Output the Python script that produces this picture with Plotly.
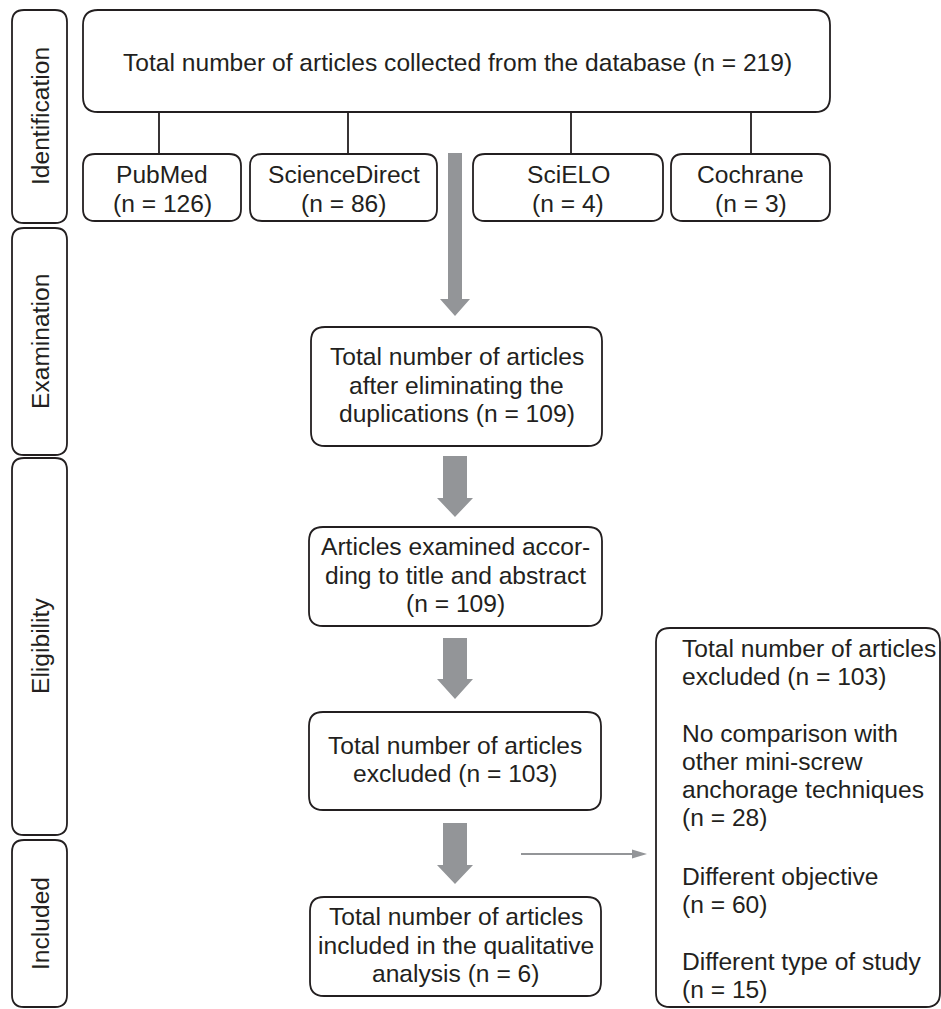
import plotly.graph_objects as go

# ---------------- data ----------------
stages = ["Identification", "Examination", "Eligibility", "Included"]
total_collected = 219
sources = ["PubMed", "ScienceDirect", "SciELO", "Cochrane"]
source_n = [126, 86, 4, 3]
after_dedup_n = 109
screened_n = 109
excluded_n = 103
included_n = 6
exclusion_reasons = [["No comparison with", "other mini-screw", "anchorage techniques"],
                     ["Different objective"],
                     ["Different type of study"]]
exclusion_n = [28, 60, 15]

# ---------------- layout geometry (pixels) ----------------
W, H = 941, 1009
INK = "#231f20"
GRAY = "#939598"
FS = 24.6
LH = 28.5
LW = 1.8

stage_boxes = [(12, 10, 67, 223), (12, 228, 67, 455), (12, 458, 67, 835), (12, 840, 67, 1007)]
main_box = (83, 10, 830, 112)
source_boxes = [(83, 154, 241, 221), (250, 154, 437, 221), (473, 154, 663, 221), (671, 154, 830, 221)]
connector_x = [159, 348, 571, 751]
flow_boxes = [(311, 327, 602, 446), (309, 527, 602, 626), (309, 712, 601, 810), (310, 897, 601, 996)]
right_box = (656, 628, 940, 1007)


def rrect(x0, y0, x1, y1, r):
    return (f"M{x0+r},{y0} L{x1-r},{y0} Q{x1},{y0} {x1},{y0+r} L{x1},{y1-r} "
            f"Q{x1},{y1} {x1-r},{y1} L{x0+r},{y1} Q{x0},{y1} {x0},{y1-r} "
            f"L{x0},{y0+r} Q{x0},{y0} {x0+r},{y0} Z")


def down_arrow(cx, y0, yh, ytip, shaft_w, head_w):
    s, h = shaft_w / 2, head_w / 2
    return (f"M{cx-s},{y0} L{cx+s},{y0} L{cx+s},{yh} L{cx+h},{yh} L{cx},{ytip} "
            f"L{cx-h},{yh} L{cx-s},{yh} Z")


shapes = []
annotations = []
FONT = dict(size=FS, color=INK, family="Liberation Sans, Arial")


def box(b, r=12):
    shapes.append(dict(type="path", path=rrect(*b, r), line=dict(color=INK, width=LW),
                       fillcolor="rgba(0,0,0,0)", layer="above"))


def centered_lines(lines, cx, cy, xanchor="center"):
    n = len(lines)
    for i, t in enumerate(lines):
        annotations.append(dict(x=cx, y=cy + (i - (n - 1) / 2) * LH, text=t, showarrow=False,
                                xanchor=xanchor, yanchor="middle", font=FONT))


# stage side boxes
for b, name in zip(stage_boxes, stages):
    box(b, 12)
    annotations.append(dict(x=(b[0] + b[2]) / 2 + 1, y=(b[1] + b[3]) / 2, text=name, textangle=-90,
                            showarrow=False, xanchor="center", yanchor="middle", font=FONT))

# main box
box(main_box, 15)
centered_lines([f"Total number of articles collected from the database (n = {total_collected})"],
               (main_box[0] + main_box[2]) / 2 + 1, 62)

# connectors and source boxes
for b, cx, name, n in zip(source_boxes, connector_x, sources, source_n):
    shapes.append(dict(type="line", x0=cx, x1=cx, y0=main_box[3], y1=b[1],
                       line=dict(color=INK, width=LW)))
    box(b, 12)
    centered_lines([name, f"(n = {n})"], (b[0] + b[2]) / 2, 189)

# flow boxes
flow_texts = [
    ["Total number of articles", "after eliminating the", f"duplications (n = {after_dedup_n})"],
    ["Articles examined accor-", "ding to title and abstract", f"(n = {screened_n})"],
    ["Total number of articles", f"excluded (n = {excluded_n})"],
    ["Total number of articles", "included in the qualitative", f"analysis (n = {included_n})"],
]
for b, lines in zip(flow_boxes, flow_texts):
    box(b, 14)
    centered_lines(lines, (b[0] + b[2]) / 2, (b[1] + b[3]) / 2 - 1.5)

# gray arrows
ACX = 455
shapes.append(dict(type="path", path=down_arrow(ACX, 153, 299, 316, 14, 30),
                   fillcolor=GRAY, line=dict(width=0)))
for y0, yh, yt in [(456, 498, 517), (638, 679, 699), (823, 865, 884)]:
    shapes.append(dict(type="path", path=down_arrow(ACX, y0, yh, yt, 24, 36),
                       fillcolor=GRAY, line=dict(width=0)))

# thin arrow to exclusion box
shapes.append(dict(type="line", x0=521, x1=634, y0=854, y1=854, line=dict(color=GRAY, width=2)))
shapes.append(dict(type="path", path="M632,849.5 L647,854 L632,858.5 Z", fillcolor=GRAY,
                   line=dict(width=0)))

# right exclusion box
box(right_box, 14)
groups = [["Total number of articles", f"excluded (n = {excluded_n})"]]
for reason, n in zip(exclusion_reasons, exclusion_n):
    groups.append(reason + [f"(n = {n})"])
group_tops = [648, 733, 876, 961]
for top, lines in zip(group_tops, groups):
    for i, t in enumerate(lines):
        annotations.append(dict(x=680, y=top + i * 28.3, text=t, showarrow=False,
                                xanchor="left", yanchor="middle", font=FONT))

fig = go.Figure()
fig.update_layout(
    width=W, height=H, margin=dict(l=0, r=0, t=0, b=0),
    paper_bgcolor="white", plot_bgcolor="white",
    xaxis=dict(range=[0, W], visible=False, fixedrange=True),
    yaxis=dict(range=[H, 0], visible=False, fixedrange=True),
    shapes=shapes, annotations=annotations, showlegend=False,
)
fig.write_html("out.html", config={"displayModeBar": False},
               post_script="document.body.style.margin='0';")
